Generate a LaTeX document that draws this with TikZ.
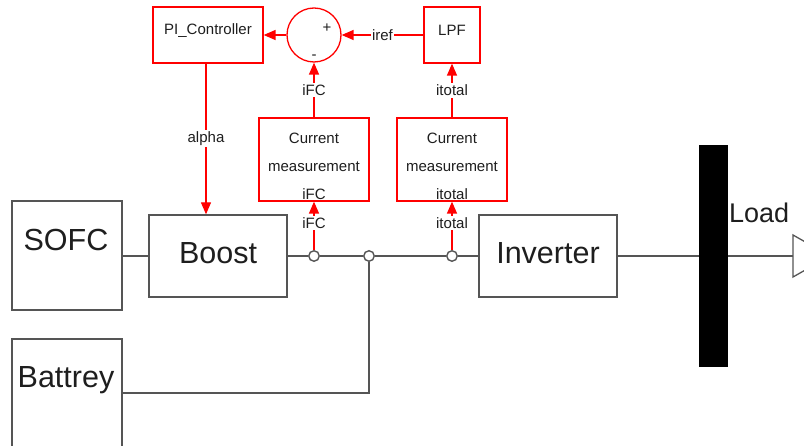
\documentclass[tikz,border=0pt]{standalone}
\usepackage{fontspec}
\setmainfont{Liberation Sans}
\usetikzlibrary{arrows.meta}
\definecolor{txt}{HTML}{1E1E1E}
\definecolor{wirec}{HTML}{555555}
\definecolor{sigred}{HTML}{FF0000}
\tikzset{
  blk/.style={draw=wirec, line width=1.4pt, rectangle, inner sep=0pt, fill=white},
  rblk/.style={draw=sigred, line width=1.3pt, rectangle, inner sep=0pt, fill=white},
  big/.style={text=txt, inner sep=0pt, anchor=base, font=\fontsize{30.5}{36}\selectfont},
  sm/.style={text=txt, inner sep=0pt, anchor=base, font=\fontsize{15}{18}\selectfont},
  lbl/.style={text=txt, fill=white, inner sep=1.5pt, font=\fontsize{15}{18}\selectfont},
  wire/.style={draw=wirec, line width=1.5pt},
  sig/.style={draw=sigred, line width=1.4pt, -{Triangle[length=12pt,width=10pt]}},
  jn/.style={circle, draw=wirec, fill=white, line width=1.4pt, minimum size=10.5pt, inner sep=0pt},
}
\begin{document}
\begin{tikzpicture}[x=1pt,y=-1pt]
\clip (0,0) rectangle (804,446);
\fill[white] (0,0) rectangle (804,446);
% power blocks
\node[blk, minimum width=110pt, minimum height=109pt] (sofc) at (67,255.5) {};
\node[big] (sofct) at (66,251) {SOFC};
\node[blk, minimum width=138pt, minimum height=82pt] (boost) at (218,256) {};
\node[big] (boostt) at (218,264) {Boost};
\node[blk, minimum width=110pt, minimum height=131pt] (bat) at (67,404.5) {};
\node[big] (batt) at (66,388) {Battrey};
\node[blk, minimum width=138pt, minimum height=82pt] (inv) at (548,256) {};
\node[big] (invt) at (548,264) {Inverter};
\node[fill=black, minimum width=29pt, minimum height=222pt, inner sep=0pt] (bar) at (713.5,256) {};
\node[text=txt, inner sep=0pt, anchor=base west, font=\fontsize{27}{32}\selectfont] (loadt) at (729,223) {Load};
\coordinate (loadin) at (793,256);
\draw[wirec, line width=1.3pt] (793,235) -- (793,277) -- (830,256) -- cycle;
% junctions
\node[jn] (c1) at (314,256) {};
\node[jn] (c2) at (369,256) {};
\node[jn] (c3) at (452,256) {};
\coordinate (batout) at (122,393);
% wires
\draw[wire] (sofc.east |- boost.west) -- (boost.west);
\draw[wire] (boost.east) -- (c1) -- (c2) -- (c3) -- (inv.west);
\draw[wire] (c2) |- (batout);
\draw[wire] (inv.east) -- (bar.west);
\draw[wire] (bar.east) -- (loadin);
% control blocks
\node[rblk, minimum width=110pt, minimum height=56pt] (pi) at (208,35) {};
\node[sm] (pit) at (208,35) {PI\_Controller};
\node[circle, draw=sigred, line width=1.3pt, minimum size=54pt, inner sep=0pt] (sum) at (314,35) {};
\node[sm] (plus) at (327,33) {+};
\node[sm] (minus) at (314,60) {-};
\node[rblk, minimum width=56pt, minimum height=56pt] (lpf) at (452,35) {};
\node[sm] (lpft) at (452,35.5) {LPF};
\node[rblk, minimum width=110pt, minimum height=83pt] (m1) at (314,159.5) {};
\node[rblk, minimum width=110pt, minimum height=83pt] (m2) at (452,159.5) {};
\node[sm] (m1a) at (314,144) {Current};
\node[sm] (m1b) at (314,172) {measurement};
\node[sm] (m1c) at (314,200) {iFC};
\node[sm] (m2a) at (452,144) {Current};
\node[sm] (m2b) at (452,172) {measurement};
\node[sm] (m2c) at (452,200) {itotal};
% signals
\draw[sig] (lpf.west) -- node[lbl]{iref} (sum.east);
\draw[sig] (sum.west) -- (pi.east);
\draw[sig] (m1.north) -- node[lbl]{iFC} (sum.south);
\draw[sig] (m2.north) -- node[lbl]{itotal} (lpf.south);
\draw[sig] (c1) -- node[lbl, pos=0.55]{iFC} (m1.south);
\draw[sig] (c3) -- node[lbl, pos=0.55]{itotal} (m2.south);
\draw[sig] (pi.south -| 206,0) -- node[lbl]{alpha} (boost.north -| 206,0);
\end{tikzpicture}
\end{document}
